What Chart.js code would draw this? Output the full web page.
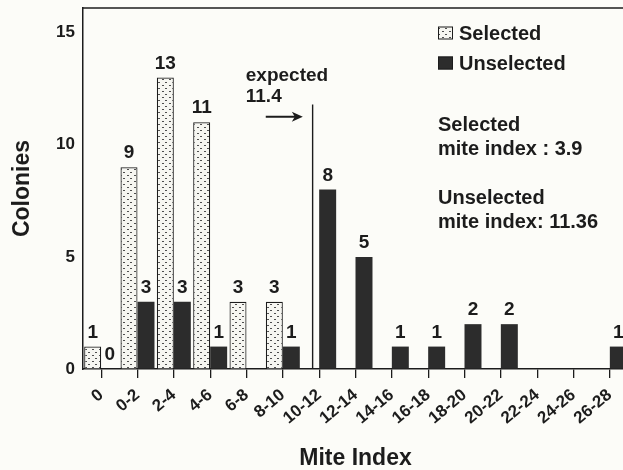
<!DOCTYPE html>
<html><head><meta charset="utf-8">
<script src="https://cdn.jsdelivr.net/npm/chart.js@4/dist/chart.umd.min.js"></script>
<style>
html,body{margin:0;padding:0;background:#fcfcf8;overflow:hidden;width:623px;height:470px;}
#wrap{width:630px;height:470px;}
</style></head><body>
<div id="wrap"><canvas id="c" width="630" height="470"></canvas></div>
<script>
const categories = ['0','0-2','2-4','4-6','6-8','8-10','10-12','12-14','14-16','16-18','18-20','20-22','22-24','24-26','26-28'];
const selectedValues   = [1, 9, 13, 11, 3, 3, null, null, null, null, null, null, null, null, null];
const unselectedValues = [0, 3, 3, 1, null, 1, 8, 5, 1, 1, 2, 2, null, null, 1];
const yTickValues = [0, 5, 10, 15];
const yMax = 16.1;
const seriesNames = ['Selected', 'Unselected'];
const expectedLabel = ['expected', '11.4'];
const summaryLines = ['Selected', 'mite index : 3.9', 'Unselected', 'mite index: 11.36'];
// expected-line placement (category index units / y units)
const expectedPos = 5.82, expectedTop = 11.8;
const arrowFrom = 4.53, arrowTo = 5.55, arrowY = 11.25;
const expectedTextPos = 3.98, expectedTextY = [13.1, 12.15];

const FONT = '"Liberation Sans", Arial, Helvetica, sans-serif';
const INK = '#1c1c1c';
const canvas = document.getElementById('c');
const ctx0 = canvas.getContext('2d');

function makePattern(){
  const p = document.createElement('canvas'); p.width = 7; p.height = 6;
  const g = p.getContext('2d');
  g.fillStyle = '#f6f6f1'; g.fillRect(0,0,7,6);
  g.fillStyle = '#4e4e4e';
  g.fillRect(1,1,2,1); g.fillRect(4,4,2,1);
  return ctx0.createPattern(p, 'repeat');
}
const selPattern = makePattern();
const unselColor = '#2c2c2c';

const valueLabels = {
  id: 'valueLabels',
  afterDatasetsDraw(chart){
    const ctx = chart.ctx;
    ctx.save();
    ctx.font = 'bold 19px ' + FONT;
    ctx.fillStyle = INK; ctx.textAlign = 'center'; ctx.textBaseline = 'alphabetic';
    chart.data.datasets.forEach((ds, i) => {
      const meta = chart.getDatasetMeta(i);
      meta.data.forEach((bar, j) => {
        const v = ds.data[j];
        if (v === null || v === undefined) return;
        ctx.fillText(String(v), bar.x, bar.y - 9);
      });
    });
    ctx.restore();
  }
};

const extras = {
  id: 'extras',
  afterDraw(chart){
    const ctx = chart.ctx, a = chart.chartArea;
    const xs = chart.scales.x, ys = chart.scales.y;
    ctx.save();
    // top frame line
    ctx.strokeStyle = INK; ctx.lineWidth = 1.5;
    ctx.beginPath(); ctx.moveTo(a.left, a.top); ctx.lineTo(a.right, a.top); ctx.stroke();
    // expected line
    const ex = xs.getPixelForValue(expectedPos);
    ctx.lineWidth = 1.4;
    ctx.beginPath(); ctx.moveTo(ex, ys.getPixelForValue(expectedTop)); ctx.lineTo(ex, ys.getPixelForValue(0)); ctx.stroke();
    // arrow
    const ax0 = xs.getPixelForValue(arrowFrom), ax1 = xs.getPixelForValue(arrowTo), ay = ys.getPixelForValue(arrowY);
    ctx.lineWidth = 2;
    ctx.beginPath(); ctx.moveTo(ax0, ay); ctx.lineTo(ax1 - 6, ay); ctx.stroke();
    ctx.fillStyle = INK;
    ctx.beginPath(); ctx.moveTo(ax1, ay); ctx.lineTo(ax1 - 11, ay - 5); ctx.lineTo(ax1 - 8, ay); ctx.lineTo(ax1 - 11, ay + 5); ctx.closePath(); ctx.fill();
    // expected text
    ctx.font = 'bold 19px ' + FONT; ctx.textAlign = 'left'; ctx.textBaseline = 'middle';
    const tx = xs.getPixelForValue(expectedTextPos);
    ctx.fillText(expectedLabel[0], tx, ys.getPixelForValue(expectedTextY[0]));
    ctx.fillText(expectedLabel[1], tx, ys.getPixelForValue(expectedTextY[1]));
    // legend
    ctx.font = 'bold 20px ' + FONT;
    const lx = 438, ly = [33, 63];
    const ds = chart.data.datasets;
    ds.forEach((d, i) => {
      ctx.fillStyle = d.backgroundColor;
      ctx.fillRect(lx, ly[i] - 6.5, 15, 13);
      ctx.strokeStyle = INK; ctx.lineWidth = 1;
      ctx.strokeRect(lx + 0.5, ly[i] - 6, 14, 12);
      ctx.fillStyle = INK;
      ctx.fillText(seriesNames[i], lx + 21, ly[i] + 1);
    });
    // summary text
    const sy = [125, 149, 198, 222];
    summaryLines.forEach((t, i) => ctx.fillText(t, lx, sy[i]));
    ctx.restore();
  }
};

new Chart(canvas, {
  type: 'bar',
  data: {
    labels: categories,
    datasets: [
      { label: seriesNames[0], data: selectedValues, backgroundColor: selPattern, borderColor: INK, borderWidth: 1.2 },
      { label: seriesNames[1], data: unselectedValues, backgroundColor: unselColor, borderColor: unselColor, borderWidth: 0 }
    ]
  },
  options: {
    responsive: false, animation: false, events: [],
    layout: { padding: { top: 8, right: 2, left: 0, bottom: 0 } },
    datasets: { bar: { categoryPercentage: 0.935, barPercentage: 1.0 } },
    plugins: { legend: { display: false }, tooltip: { enabled: false } },
    scales: {
      x: {
        grid: { display: true, drawOnChartArea: false, drawTicks: true, tickLength: 9, offset: false, color: INK, lineWidth: 1.3 },
        border: { display: true, color: INK, width: 1.5 },
        ticks: { autoSkip: false, minRotation: 40, maxRotation: 40, color: INK, padding: 7, font: { family: FONT, size: 17, weight: 'bold' } },
        title: { display: true, text: 'Mite Index', color: INK, font: { family: FONT, size: 23, weight: 'bold', lineHeight: 1 }, padding: { top: 0, bottom: 0 } },
        afterFit(s){ s.height = 101; s.paddingLeft = 0; s.paddingRight = 0; }
      },
      y: {
        min: 0, max: yMax,
        grid: { drawOnChartArea: false, drawTicks: false },
        border: { display: true, color: INK, width: 1.5 },
        afterBuildTicks(s){ s.ticks = yTickValues.map(v => ({ value: v })); },
        ticks: { color: INK, padding: 8, font: { family: FONT, size: 17, weight: 'bold' } },
        title: { display: true, text: 'Colonies', color: INK, font: { family: FONT, size: 23, weight: 'bold', lineHeight: 1.2 }, padding: { top: 9, bottom: 0 } },
        afterFit(s){ s.width = 83; s.paddingTop = 0; s.paddingBottom = 0; }
      }
    }
  },
  plugins: [valueLabels, extras]
});
</script>
</body></html>
